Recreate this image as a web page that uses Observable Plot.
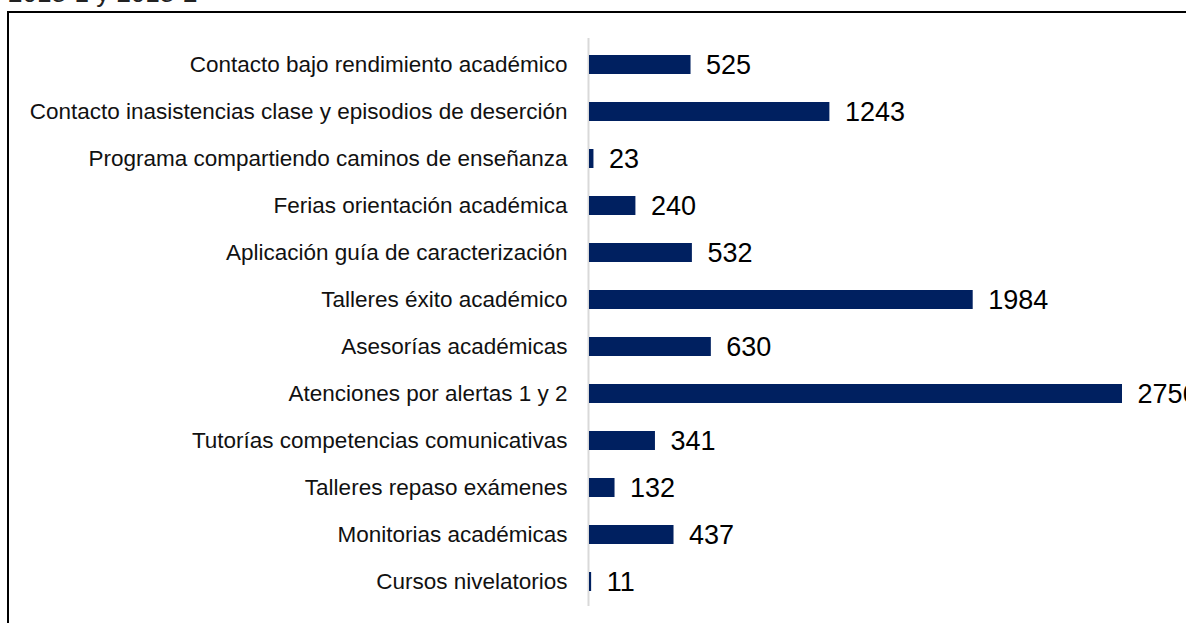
<!DOCTYPE html>
<html>
<head>
<meta charset="utf-8">
<script src="https://cdn.jsdelivr.net/npm/d3@7"></script>
<script src="https://cdn.jsdelivr.net/npm/@observablehq/plot@0.6"></script>
<style>
  html, body { margin: 0; padding: 0; background: #fff; overflow: hidden; }
  #wrap { position: relative; width: 1186px; height: 623px; }
  #title { position: absolute; left: 8px; top: -20px; font: 26px "Liberation Sans", Arial, sans-serif; line-height: 26px; color: #222; white-space: nowrap; }
  #frame { position: absolute; left: 7px; top: 11px; width: 1300px; height: 700px; border-left: 2px solid #000; border-top: 2px solid #000; }
  #chart { position: absolute; left: 0; top: 0; }
</style>
</head>
<body>
<div id="wrap">
  <div id="title">2018-1 y 2018-2</div>
  <div id="frame"></div>
  <div id="chart"></div>
</div>
<script>
const categories = [
  "Contacto bajo rendimiento académico",
  "Contacto inasistencias clase y episodios de deserción",
  "Programa compartiendo caminos de enseñanza",
  "Ferias orientación académica",
  "Aplicación guía de caracterización",
  "Talleres éxito académico",
  "Asesorías académicas",
  "Atenciones por alertas 1 y 2",
  "Tutorías competencias comunicativas",
  "Talleres repaso exámenes",
  "Monitorias académicas",
  "Cursos nivelatorios"
];
const values = [525, 1243, 23, 240, 532, 1984, 630, 2756, 341, 132, 437, 11];

const data = categories.map((c, i) => ({category: c, value: values[i]}));

const chart = Plot.plot({
  width: 1186,
  height: 623,
  marginLeft: 589,
  marginRight: 64,
  marginTop: 26,
  marginBottom: 3,
  style: {fontFamily: "'Liberation Sans', Arial, sans-serif", fontSize: "22.5px", color: "#111", background: "transparent", overflow: "visible"},
  x: {domain: [0, 2756], axis: null},
  y: {domain: categories, padding: 0.6, label: null, tickSize: 0, tickPadding: 22},
  marks: [
    Plot.ruleX([0], {stroke: "#d9d9d9", strokeWidth: 2, dx: -1, insetTop: 12, insetBottom: 14}),
    Plot.barX(data, {x: "value", y: "category", fill: "#002060"}),
    Plot.text(data, {x: "value", y: "category", text: d => String(d.value), textAnchor: "start", dx: 15, fontSize: 27, fill: "#000"})
  ]
});
document.getElementById("chart").appendChild(chart);
</script>
</body>
</html>
